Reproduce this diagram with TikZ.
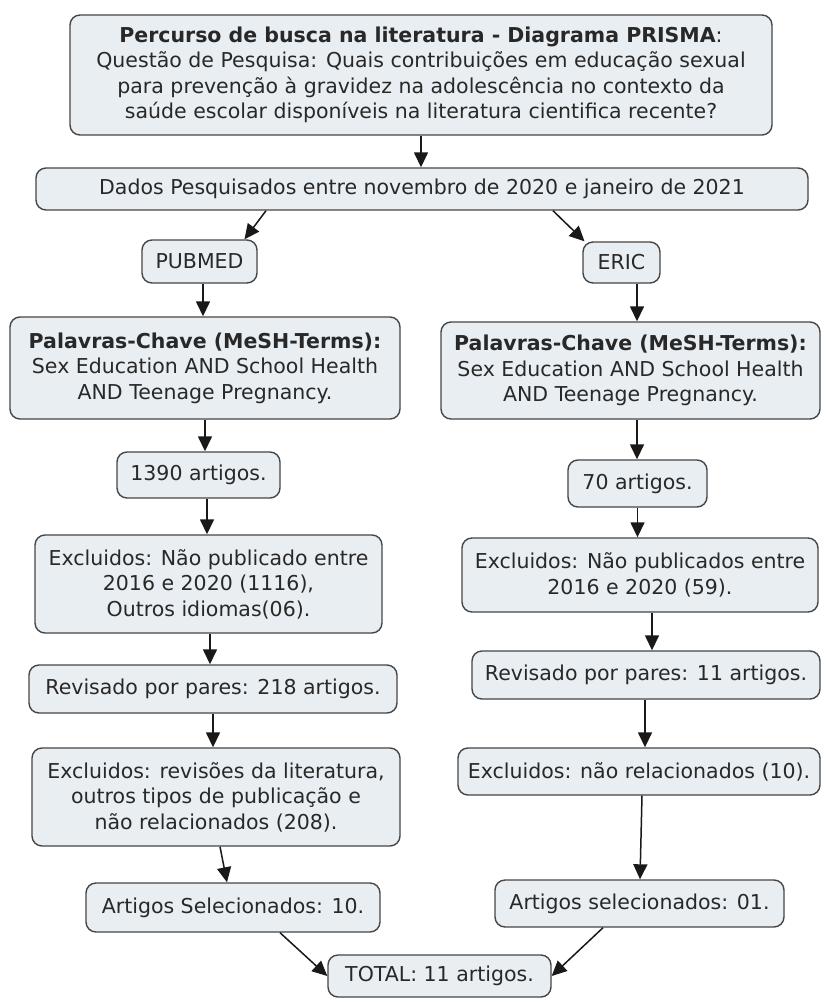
\documentclass[tikz,border=0pt]{standalone}
\usepackage{fontspec}
\setmainfont{DejaVu Sans}
\usetikzlibrary{arrows.meta}
\definecolor{boxfill}{RGB}{233,238,242}
\definecolor{boxline}{RGB}{70,70,70}
\definecolor{txt}{RGB}{40,40,40}
\definecolor{arr}{RGB}{25,25,25}
\begin{document}
\begin{tikzpicture}[x=1pt,y=-1pt,
  box/.style={draw=boxline,line width=1.4pt,fill=boxfill,rounded corners=10pt,
    align=center,inner sep=0pt,text=txt,font=\fontsize{20.5}{25.5}\selectfont},
  conn/.style={draw=arr,line width=1.5pt,-{Triangle[length=15pt,width=14pt]}}]
\useasboundingbox[fill=white] (0,0) rectangle (822,999);

\node[box,minimum width=702pt,minimum height=120pt] (top) at (421,75)
  {\textbf{Percurso de busca na literatura - Diagrama PRISMA}:\\
   Questão de Pesquisa: Quais contribuições em educação sexual\\
   para prevenção à gravidez na adolescência no contexto da\\
   saúde escolar disponíveis na literatura cientifica recente?};
\node[box,minimum width=772pt,minimum height=42pt] (dados) at (422,189)
  {Dados Pesquisados entre novembro de 2020 e janeiro de 2021};
\node[box,minimum width=115pt,minimum height=43pt] (pub) at (199.5,261.5) {PUBMED};
\node[box,minimum width=77pt,minimum height=41pt] (eric) at (621.5,262.5) {ERIC};
\node[box,minimum width=390pt,minimum height=102pt] (palL) at (205,368)
  {\textbf{Palavras-Chave (MeSH-Terms):}\\Sex Education AND School Health\\AND Teenage Pregnancy.};
\node[box,minimum width=379pt,minimum height=97pt] (palR) at (630.5,370.5)
  {\textbf{Palavras-Chave (MeSH-Terms):}\\Sex Education AND School Health\\AND Teenage Pregnancy.};
\node[box,minimum width=163pt,minimum height=46pt] (n1390) at (198.5,475) {1390 artigos.};
\node[box,minimum width=139pt,minimum height=47pt] (n70) at (637.5,483.5) {70 artigos.};
\node[box,minimum width=347pt,minimum height=98pt] (exL) at (208.5,584)
  {Excluidos: Não publicado entre\\2016 e 2020 (1116),\\Outros idiomas(06).};
\node[box,minimum width=356pt,minimum height=74pt] (exR) at (640,575)
  {Excluidos: Não publicados entre\\2016 e 2020 (59).};
\node[box,minimum width=368pt,minimum height=48pt] (revL) at (213,689)
  {Revisado por pares: 218 artigos.};
\node[box,minimum width=348pt,minimum height=48pt] (revR) at (646,675)
  {Revisado por pares: 11 artigos.};
\node[box,minimum width=368pt,minimum height=98pt] (exbL) at (216,797)
  {Excluidos: revisões da literatura,\\outros tipos de publicação e\\não relacionados (208).};
\node[box,minimum width=362pt,minimum height=47pt] (exbR) at (639,771.5)
  {Excluidos: não relacionados (10).};
\node[box,minimum width=294pt,minimum height=49pt] (art10) at (233,907.5)
  {Artigos Selecionados: 10.};
\node[box,minimum width=289pt,minimum height=47pt] (art01) at (639.5,903.5)
  {Artigos selecionados: 01.};
\node[box,minimum width=223pt,minimum height=42pt] (total) at (439.5,976)
  {TOTAL: 11 artigos.};

\draw[conn] (top.south) -- (top.south |- dados.north);
\draw[conn] ([xshift=-156pt]dados.south) -- ([xshift=45pt]pub.north);
\draw[conn] ([xshift=131pt]dados.south) -- ([xshift=-37pt]eric.north);
\draw[conn] ([xshift=3.5pt]pub.south) -- ([xshift=3.5pt]pub.south |- palL.north);
\draw[conn] ([xshift=15.5pt]eric.south) -- ([xshift=15.5pt]eric.south |- palR.north);
\draw[conn] (palL.south) -- (palL.south |- n1390.north);
\draw[conn] ([xshift=6.5pt]palR.south) -- ([xshift=6.5pt]palR.south |- n70.north);
\draw[conn] ([xshift=8.5pt]n1390.south) -- ([xshift=8.5pt]n1390.south |- exL.north);
\draw[conn] (n70.south) -- (n70.south |- exR.north);
\draw[conn] ([xshift=1.5pt]exL.south) -- ([xshift=1.5pt]exL.south |- revL.north);
\draw[conn] ([xshift=12pt]exR.south) -- ([xshift=12pt]exR.south |- revR.north);
\draw[conn] (revL.south) -- (revL.south |- exbL.north);
\draw[conn] ([xshift=-1pt]revR.south) -- ([xshift=-1pt]revR.south |- exbR.north);
\draw[conn] ([xshift=4pt]exbL.south) -- ([xshift=-6pt]art10.north);
\draw[conn] ([xshift=3pt]exbR.south) -- ([xshift=0.5pt]art01.north);
\draw[conn] ([xshift=47pt]art10.south) -- (total.west);
\draw[conn] ([xshift=-36.5pt]art01.south) -- (total.east);
\end{tikzpicture}
\end{document}
